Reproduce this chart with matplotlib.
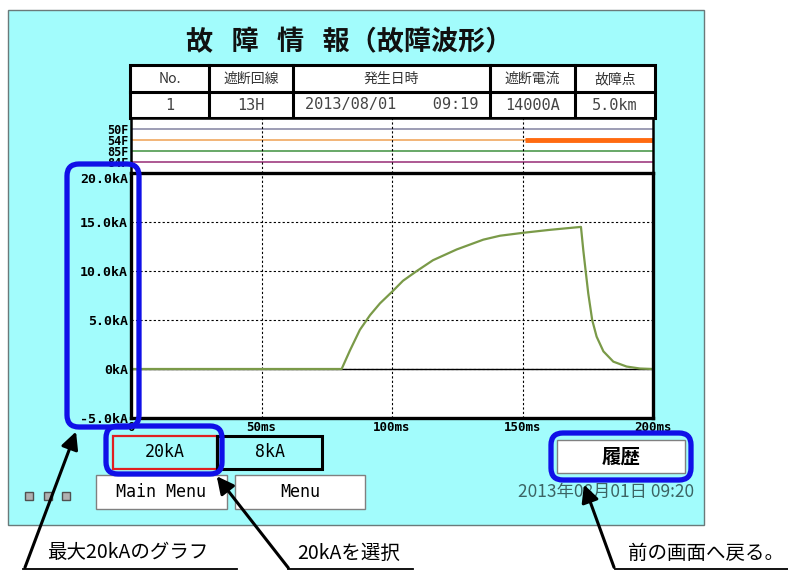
import matplotlib
matplotlib.use("Agg")
import matplotlib.pyplot as plt
from matplotlib.patches import Rectangle, FancyBboxPatch

plt.rcParams['font.family'] = ['Noto Sans CJK JP', 'DejaVu Sans']

W, H = 788, 570

# 故障電流波形 (ms, kA)
t_ms = [0, 80.7, 83.9, 87.7, 91.6, 95.4, 100.1, 104.2, 109.5, 115.7, 124.8, 135, 141.4,
        150.3, 160.5, 172.4, 173.3, 174.2, 175.2, 176.7, 178.4, 181, 184.8, 189.9, 195, 200]
i_ka = [0, 0, 1.9, 4.0, 5.5, 6.7, 7.9, 9.0, 10.0, 11.1, 12.2, 13.2, 13.6,
        13.9, 14.2, 14.5, 12.1, 10.0, 7.7, 5.0, 3.3, 1.8, 0.75, 0.25, 0.05, 0.0]

x_ticks = [0, 50, 100, 150, 200]
x_labels = ["0", "50ms", "100ms", "150ms", "200ms"]
y_ticks = [-5, 0, 5, 10, 15, 20]
y_labels = ["-5.0kA", "0kA", "5.0kA", "10.0kA", "15.0kA", "20.0kA"]

# 動作信号
sig_names = ["50F", "54F", "85F", "84F"]
sig_colors = ["#8C8CA8", "#F0A860", "#4E9A4E", "#A03C80"]
sig_on_name = "54F"
sig_on_range = (151, 200)

headers = ["No.", "遮断回線", "発生日時", "遮断電流", "故障点"]
values = ["1", "13H", "2013/08/01    09:19", "14000A", "5.0km"]
col_edges = [130, 209, 293, 490, 575, 655]


def frac(x0, y0, x1, y1):
    return [x0 / W, 1 - y1 / H, (x1 - x0) / W, (y1 - y0) / H]


fig = plt.figure(figsize=(W / 100, H / 100), dpi=100)
fig.patch.set_facecolor("white")

# 背景 (画面)
bg = fig.add_axes([0, 0, 1, 1], zorder=0)
bg.set_xlim(0, W)
bg.set_ylim(H, 0)
bg.axis("off")
bg.add_patch(Rectangle((8, 9.5), 696, 515.5, fc="#A2FCFC", ec="#6A7A7A", lw=1))

bg.text(349, 42, "故   障   情   報（故障波形）", ha="center", va="center",
        fontsize=19.5, fontweight="bold", color="#111111")

# テーブル
bg.add_patch(Rectangle((130, 65), 525, 53, fc="white", ec="black", lw=2.2))
bg.plot([130, 655], [92, 92], color="black", lw=2.2)
for xe in col_edges[1:-1]:
    bg.plot([xe, xe], [65, 118], color="black", lw=2.2)
for k in range(len(headers)):
    cx = (col_edges[k] + col_edges[k + 1]) / 2
    bg.text(cx, 79, headers[k], ha="center", va="center", fontsize=10, color="#333333")
    bg.text(cx, 105, values[k], ha="center", va="center", fontsize=11,
            family=["DejaVu Sans Mono"], color="#444444")

# ボタン
bg.add_patch(Rectangle((113, 436), 104, 33, fc="none", ec="#E02020", lw=1.6))
bg.add_patch(Rectangle((217, 436), 105, 33, fc="none", ec="black", lw=2.2))
bg.text(165, 452, "20kA", ha="center", va="center", fontsize=12, family=["DejaVu Sans Mono"])
bg.text(270, 452, "8kA", ha="center", va="center", fontsize=12, family=["DejaVu Sans Mono"])
for bx0, bx1, lab in [(96, 227, "Main Menu"), (235, 365, "Menu")]:
    bg.add_patch(Rectangle((bx0, 475), bx1 - bx0, 34, fc="white", ec="#808080", lw=1))
    bg.text((bx0 + bx1) / 2, 492, lab, ha="center", va="center", fontsize=12,
            family=["DejaVu Sans Mono"])
for sx in [29, 48, 66]:
    bg.add_patch(Rectangle((sx - 4, 492), 8, 8, fc="#B0B0B0", ec="#505050", lw=1))
bg.add_patch(Rectangle((557, 440), 128, 33, fc="white", ec="#808080", lw=1))
bg.text(621, 457, "履歴", ha="center", va="center", fontsize=14, fontweight="bold")
bg.text(606, 492, "2013年08月01日 09:20", ha="center", va="center", fontsize=12.5,
        color="#3C6464")

# 信号ストリップ
st = fig.add_axes(frac(131, 118, 653, 173), zorder=2)
st.set_xlim(0, 200)
st.set_ylim(-1, 4)
levels = list(range(len(sig_names) - 1, -1, -1))
for name, col, lv in zip(sig_names, sig_colors, levels):
    st.axhline(lv, color=col, lw=1.2)
    if name == sig_on_name:
        st.plot(list(sig_on_range), [lv, lv], color="#FF6A10", lw=3.5, solid_capstyle="butt")
for xv in x_ticks[1:-1]:
    st.axvline(xv, color="black", lw=0.8, ls=(0, (2, 2)))
st.set_xticks([])
st.set_yticks(levels)
st.set_yticklabels(sig_names, fontsize=8.5, family=["DejaVu Sans Mono"], fontweight="bold")
st.tick_params(axis="y", length=0, pad=2)
for sp in st.spines.values():
    sp.set_linewidth(1.8)

# 波形
ax = fig.add_axes(frac(131, 173, 653, 418), zorder=3)
ax.set_xlim(0, 200)
ax.set_ylim(-5, 20)
ax.set_xticks(x_ticks)
ax.set_xticklabels(x_labels, fontsize=9, family=["DejaVu Sans Mono"], fontweight="bold")
ax.set_yticks(y_ticks)
ax.set_yticklabels(y_labels, fontsize=9.5, family=["DejaVu Sans Mono"], fontweight="bold")
ax.get_yticklabels()[-1].set_va("top")
ax.tick_params(length=0, pad=2)
ax.grid(True, color="black", lw=0.8, ls=(0, (2, 2)))
ax.axhline(0, color="black", lw=1)
ax.plot(t_ms, i_ka, color="#7A9A48", lw=1.6)
for sp in ax.spines.values():
    sp.set_linewidth(2.4)

# 注記
top = fig.add_axes([0, 0, 1, 1], zorder=10)
top.set_xlim(0, W)
top.set_ylim(H, 0)
top.axis("off")
top.patch.set_alpha(0)
blue = "#1010E8"
for x0, y0, x1, y1 in [(67, 164, 139, 427), (106, 426, 222, 474), (551, 433, 691, 480)]:
    top.add_patch(FancyBboxPatch((x0, y0), x1 - x0, y1 - y0,
                                 boxstyle="round,pad=0,rounding_size=12",
                                 fc="none", ec=blue, lw=3.8))
for tail, tip in [((24, 570), (77, 429)), ((290, 570), (215, 474)), ((615, 570), (583, 482))]:
    top.annotate("", xy=tip, xytext=tail,
                 arrowprops=dict(arrowstyle="-|>", color="black", lw=2.2, mutation_scale=26))
notes = [("最大20kAのグラフ", 128, 23, 237), ("20kAを選択", 349, 288, 413),
         ("前の画面へ戻る。", 706, 615, 788)]
for txt, cx, u0, u1 in notes:
    top.text(cx, 553, txt, ha="center", va="center", fontsize=14)
    top.plot([u0, u1], [568.5, 568.5], color="black", lw=1.3)

fig.savefig("out.png", dpi=100)
